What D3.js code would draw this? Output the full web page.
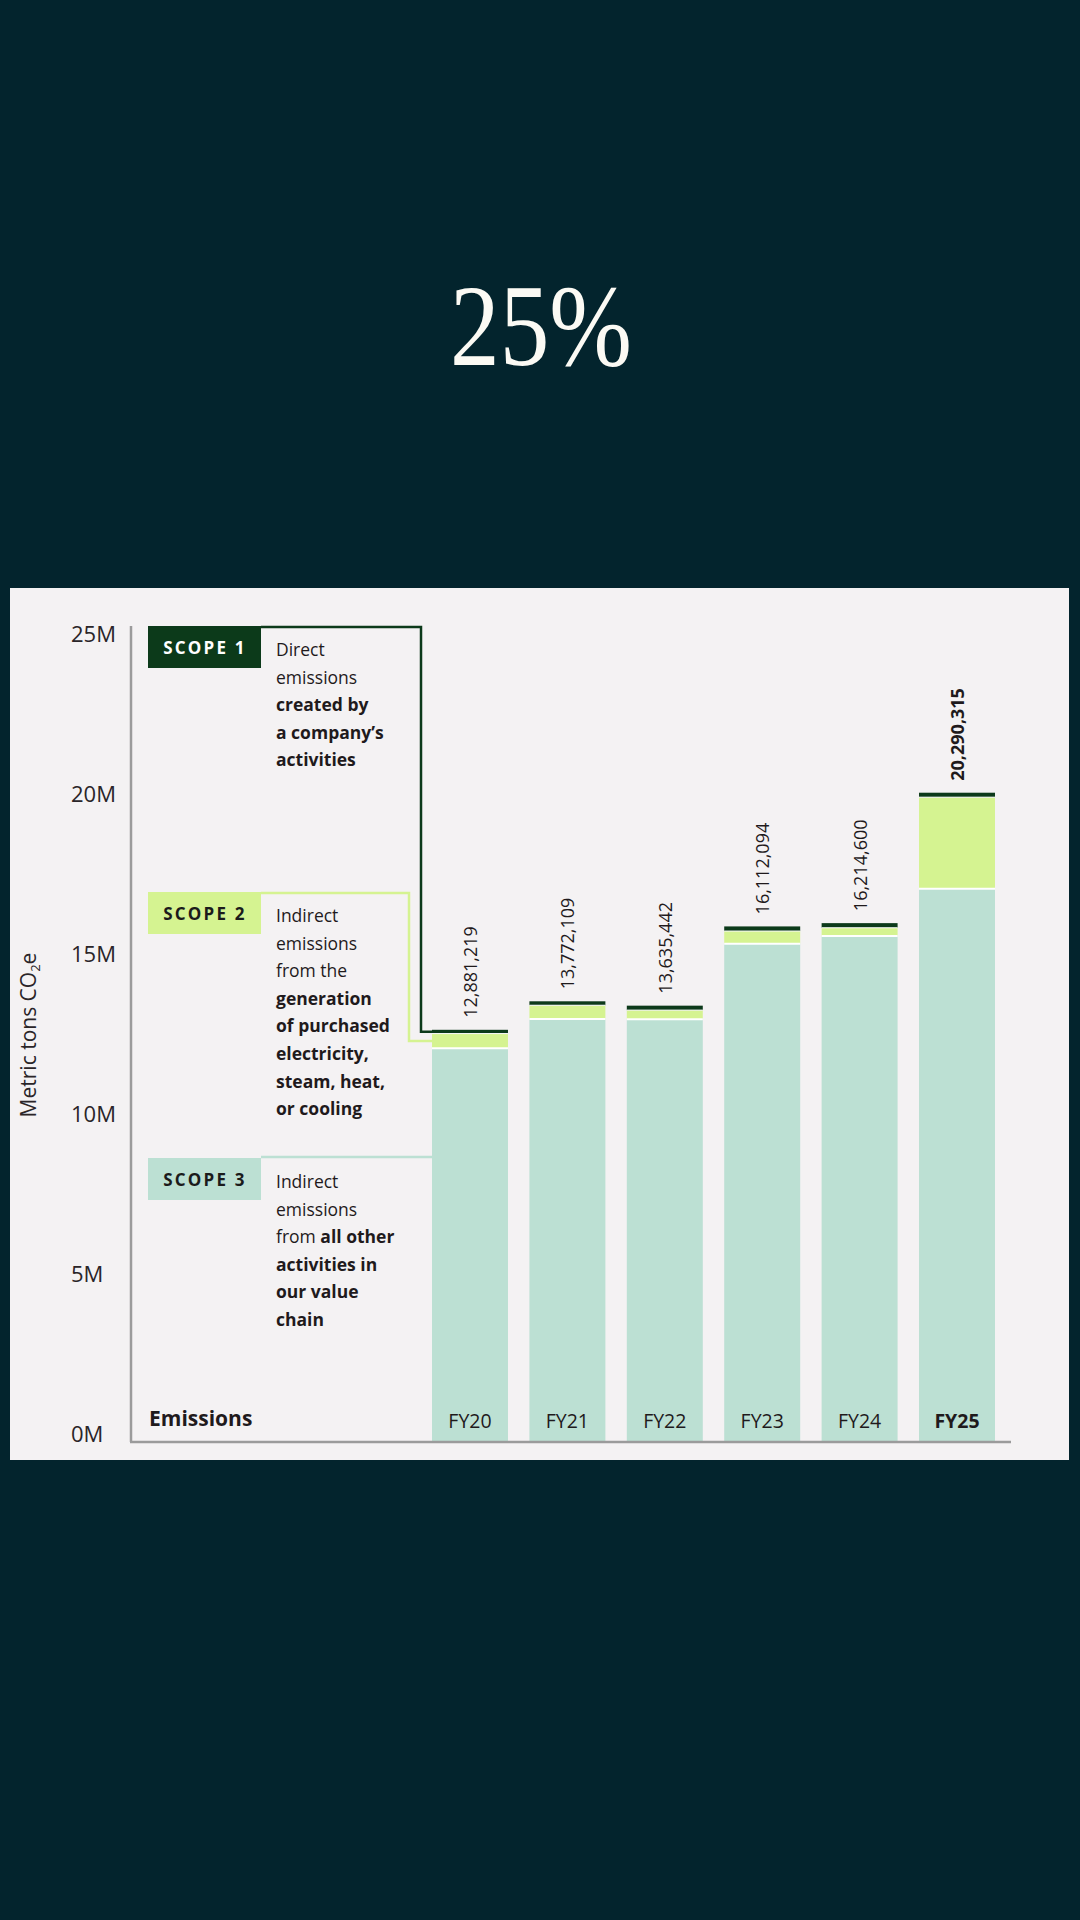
<!DOCTYPE html>
<html>
<head>
<meta charset="utf-8">
<script src="https://cdn.jsdelivr.net/npm/d3@7"></script>
<style>
  html, body { margin: 0; padding: 0; background: #03242d; }
  svg { display: block; }
</style>
</head>
<body>
<script>
// ---------- data ----------
const years = ["FY20", "FY21", "FY22", "FY23", "FY24", "FY25"];
const scope1 = [118100, 123704, 139413, 144960, 144960, 140000];
const scope2 = [456119, 429405, 288029, 393134, 259111, 2860315];
const scope3 = [12307000, 13219000, 13208000, 15574000, 15810529, 17290000];
const yTicks = [0, 5000000, 10000000, 15000000, 20000000, 25000000];
const yTickLabels = ["0M", "5M", "10M", "15M", "20M", "25M"];
const headline = "25%";
const axisTitle = "Metric tons CO";
const chartLabel = "Emissions";
const scopeNames = ["SCOPE 1", "SCOPE 2", "SCOPE 3"];
const scopeTexts = [
  [[["Direct", false]], [["emissions", false]], [["created by", true]], [["a company\u2019s", true]], [["activities", true]]],
  [[["Indirect", false]], [["emissions", false]], [["from the", false]], [["generation", true]], [["of purchased", true]], [["electricity,", true]], [["steam, heat,", true]], [["or cooling", true]]],
  [[["Indirect", false]], [["emissions", false]], [["from ", false], ["all other", true]], [["activities in", true]], [["our value", true]], [["chain", true]]]
];

// ---------- styles ----------
const C = {
  bg: "#03242d", panel: "#f4f2f3", s1: "#0c3a1a", s2: "#d5f391", s3: "#bce0d3",
  axis: "#9b9b9b", text: "#1f1a1c"
};
const FONT = "'Open Sans', 'Noto Sans', sans-serif";

const W = 1080, H = 1920;
const svg = d3.select("body").append("svg").attr("width", W).attr("height", H);
svg.append("rect").attr("width", W).attr("height", H).attr("fill", C.bg);

// headline
svg.append("text")
  .attr("x", 541).attr("y", 365)
  .attr("text-anchor", "middle")
  .attr("font-family", "'Liberation Serif', 'DejaVu Serif', serif")
  .attr("font-size", 116)
  .attr("fill", "#fbfaf4")
  .attr("textLength", 182).attr("lengthAdjust", "spacingAndGlyphs")
  .text(headline);

// panel
svg.append("rect").attr("x", 10).attr("y", 588).attr("width", 1059).attr("height", 872).attr("fill", C.panel);

// scales
const x = d3.scaleBand().domain(years).range([432, 995]).paddingInner(0.22).paddingOuter(0);
const y = d3.scaleLinear().domain([0, 25000000]).range([1442, 642]);

const rows = years.map((yr, i) => ({
  year: yr, s1: scope1[i], s2: scope2[i], s3: scope3[i],
  total: scope1[i] + scope2[i] + scope3[i]
}));

// bars
const g = svg.append("g");
const bar = g.selectAll("g.bar").data(rows).join("g").attr("class", "bar");
bar.append("rect")
  .attr("x", d => x(d.year)).attr("width", x.bandwidth())
  .attr("y", d => y(d.s3)).attr("height", d => y(0) - y(d.s3))
  .attr("fill", C.s3);
bar.append("rect")
  .attr("x", d => x(d.year)).attr("width", x.bandwidth())
  .attr("y", d => y(d.s3 + d.s2)).attr("height", d => y(d.s3) - y(d.s3 + d.s2))
  .attr("fill", C.s2);
bar.append("rect")
  .attr("x", d => x(d.year)).attr("width", x.bandwidth())
  .attr("y", d => y(d.total)).attr("height", d => y(d.s3 + d.s2) - y(d.total))
  .attr("fill", C.s1);
// white separators
bar.append("line")
  .attr("x1", d => x(d.year)).attr("x2", d => x(d.year) + x.bandwidth())
  .attr("y1", d => y(d.s3)).attr("y2", d => y(d.s3))
  .attr("stroke", "#ffffff").attr("stroke-width", 2);
bar.append("line")
  .attr("x1", d => x(d.year)).attr("x2", d => x(d.year) + x.bandwidth())
  .attr("y1", d => y(d.s3 + d.s2)).attr("y2", d => y(d.s3 + d.s2))
  .attr("stroke", "#ffffff").attr("stroke-width", 1);

// value labels (rotated)
const fmt = d3.format(",");
bar.append("text")
  .attr("transform", d => `translate(${x(d.year) + x.bandwidth() / 2},${y(d.total) - 12}) rotate(-90)`)
  .attr("dominant-baseline", "central")
  .attr("font-family", FONT)
  .attr("font-size", 18)
  .attr("font-weight", (d, i) => i === rows.length - 1 ? 700 : 400)
  .attr("fill", C.text)
  .text(d => fmt(d.total));

// category labels
bar.append("text")
  .attr("x", d => x(d.year) + x.bandwidth() / 2).attr("y", 1428)
  .attr("text-anchor", "middle")
  .attr("font-family", FONT).attr("font-size", 19.5)
  .attr("font-weight", (d, i) => i === rows.length - 1 ? 700 : 400)
  .attr("fill", C.text)
  .text(d => d.year);

// axes lines
svg.append("line").attr("x1", 131).attr("x2", 131).attr("y1", 626).attr("y2", y(0))
  .attr("stroke", C.axis).attr("stroke-width", 2.5);
svg.append("line").attr("x1", 130).attr("x2", 1011).attr("y1", y(0)).attr("y2", y(0))
  .attr("stroke", C.axis).attr("stroke-width", 2.5);

// y tick labels
svg.selectAll("text.ytick").data(yTicks).join("text").attr("class", "ytick")
  .attr("x", 71).attr("y", d => y(d))
  .attr("font-family", FONT).attr("font-size", 22)
  .attr("fill", "#2a2528")
  .text((d, i) => yTickLabels[i]);

// y axis title
const yt = svg.append("text")
  .attr("transform", "translate(36,1035) rotate(-90)")
  .attr("text-anchor", "middle")
  .attr("font-family", FONT).attr("font-size", 21)
  .attr("fill", "#2a2528");
yt.append("tspan").text(axisTitle);
yt.append("tspan").attr("font-size", 13).attr("dy", 4).text("2");
yt.append("tspan").attr("dy", -4).text("e");

// Emissions label
svg.append("text").attr("x", 149).attr("y", 1426)
  .attr("font-family", FONT).attr("font-size", 21).attr("font-weight", 700)
  .attr("fill", C.text).text(chartLabel);

// leader lines
const r0 = rows[0];
const yS1 = (y(r0.total) + y(r0.s3 + r0.s2)) / 2;
const yS2 = (y(r0.s3 + r0.s2) + y(r0.s3)) / 2;
svg.append("path")
  .attr("d", `M261,627 H421 V${yS1} H${x(r0.year)}`)
  .attr("fill", "none").attr("stroke", C.s1).attr("stroke-width", 2.5);
svg.append("path")
  .attr("d", `M261,893 H409 V${yS2} H${x(r0.year)}`)
  .attr("fill", "none").attr("stroke", C.s2).attr("stroke-width", 2.5);
svg.append("path")
  .attr("d", `M261,1157 H${x(r0.year)}`)
  .attr("fill", "none").attr("stroke", C.s3).attr("stroke-width", 2.5);

// legend boxes
const boxTops = [626, 892, 1158];
const boxFills = [C.s1, C.s2, C.s3];
const boxText = ["#ffffff", "#1b1b1b", "#1b1b1b"];
scopeNames.forEach((nm, i) => {
  svg.append("rect").attr("x", 148).attr("y", boxTops[i]).attr("width", 113).attr("height", 42)
    .attr("fill", boxFills[i]);
  svg.append("text").attr("x", 205).attr("y", boxTops[i] + 28)
    .attr("text-anchor", "middle")
    .attr("font-family", FONT).attr("font-size", 17).attr("font-weight", 700)
    .attr("letter-spacing", 2.2)
    .attr("fill", boxText[i]).text(nm);
  const lines = scopeTexts[i];
  lines.forEach((ln, j) => {
    const t = svg.append("text").attr("x", 276).attr("y", boxTops[i] + 30 + j * 27.6)
      .attr("font-family", FONT).attr("font-size", 17.5).attr("fill", C.text);
    ln.forEach(seg => {
      t.append("tspan").attr("font-weight", seg[1] ? 700 : 400).text(seg[0]);
    });
  });
});
</script>
</body>
</html>
